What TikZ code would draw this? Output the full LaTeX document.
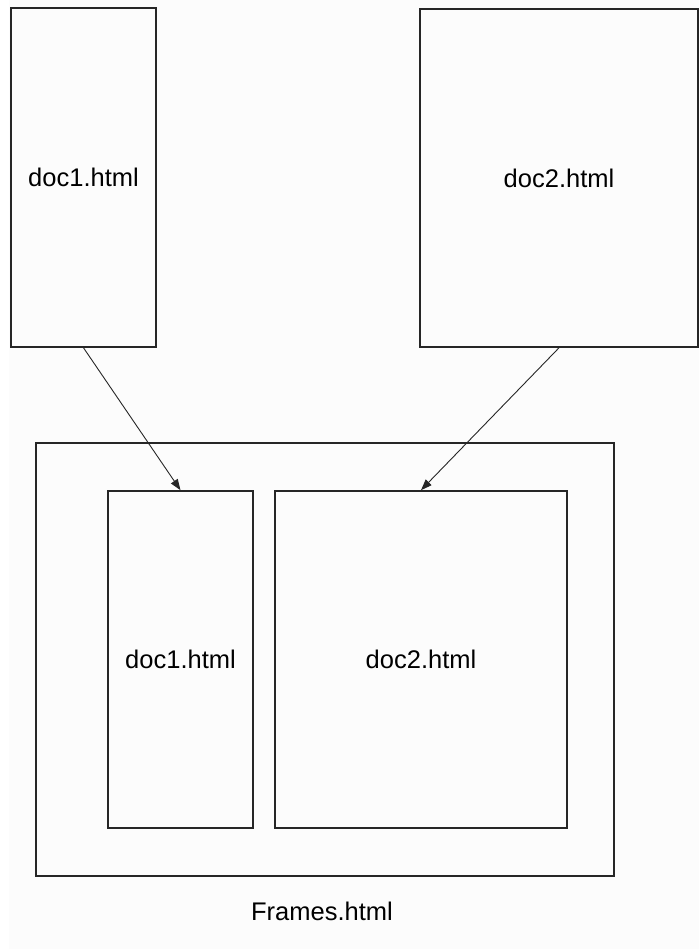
\documentclass[tikz,border=0pt]{standalone}
\usepackage{fontspec}
\setmainfont{Liberation Sans}
\usetikzlibrary{arrows.meta}
\definecolor{paper}{RGB}{252,252,252}
\begin{document}
\begin{tikzpicture}[x=1pt,y=-1pt,
    page/.style={draw=black!85, line width=1.6pt, inner sep=0pt, font=\fontsize{25.5}{30}\selectfont},
    caption/.style={inner sep=0pt, font=\fontsize{25.5}{30}\selectfont},
    link/.style={-{Triangle[length=11pt,width=8pt]}, line width=0.9pt, black!85}]
    \fill[paper] (9,0) rectangle (699,949);
    \useasboundingbox (0,0) rectangle (699,949);
    % the two documents
    \node[page, minimum width=145pt, minimum height=339pt] (src1) at (83.5,177.5) {doc1.html};
    \node[page, minimum width=278pt, minimum height=338pt] (src2) at (559,178) {doc2.html};
    % the frameset page
    \node[page, minimum width=578pt, minimum height=433pt] (frameset) at (325,659.5) {};
    \node[page, minimum width=145pt, minimum height=337pt] (dst1) at (180.5,659.5) {doc1.html};
    \node[page, minimum width=292pt, minimum height=337pt] (dst2) at (421,659.5) {doc2.html};
    \node[caption] (framescap) at (322,911) {Frames.html};
    \foreach \s/\d in {src1/dst1, src2/dst2}
    {
    \draw[link] (\s.south) -- (\d.north);
    }
\end{tikzpicture}
\end{document}
